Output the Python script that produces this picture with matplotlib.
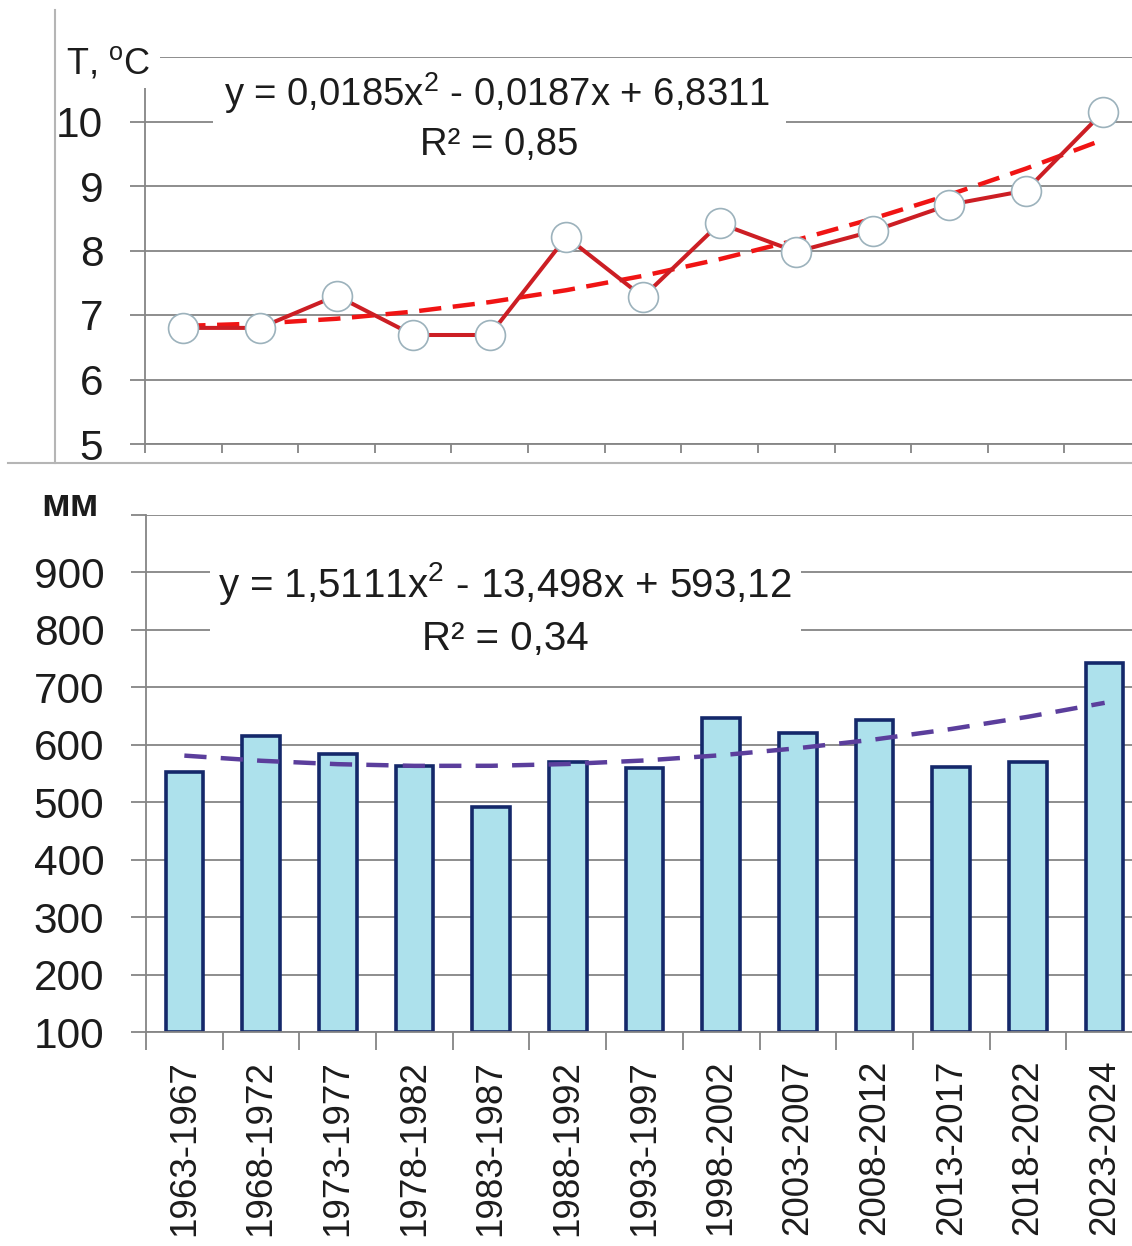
import matplotlib
matplotlib.use("Agg")
import matplotlib.pyplot as plt
import numpy as np
from matplotlib.lines import Line2D
from matplotlib.patches import Rectangle

# ---- data -------------------------------------------------------------
periods = ["1963-1967", "1968-1972", "1973-1977", "1978-1982", "1983-1987",
           "1988-1992", "1993-1997", "1998-2002", "2003-2007", "2008-2012",
           "2013-2017", "2018-2022", "2023-2024"]
temperature = [6.80, 6.80, 7.30, 6.69, 6.69, 8.21, 7.28, 8.42, 7.98, 8.30,
               8.71, 8.93, 10.14]
precipitation = [552, 615, 584, 563, 491, 570, 559, 646, 621, 644, 562, 570, 742]

# quadratic trend coefficients (a, b, c) for y = a*x^2 + b*x + c
temp_trend = [0.0185, -0.0187, 6.8311]
prec_trend = [1.5111, -13.498, 593.12]
temp_eq = "y = 0,0185x$^{2}$ - 0,0187x + 6,8311"
prec_eq = "y = 1,5111x$^{2}$ - 13,498x + 593,12"
temp_r2 = "R² = 0,85"
prec_r2 = "R² = 0,34"

temp_ticks = [5, 6, 7, 8, 9, 10, 11]
prec_ticks = [100, 200, 300, 400, 500, 600, 700, 800, 900, 1000]

# ---- style ------------------------------------------------------------
plt.rcParams["font.family"] = ["Liberation Sans", "DejaVu Sans"]
plt.rcParams["mathtext.fontset"] = "custom"
plt.rcParams["mathtext.rm"] = "Liberation Sans"
plt.rcParams["mathtext.it"] = "Liberation Sans"

W, H = 1132, 1246
fig = plt.figure(figsize=(W / 100, H / 100), dpi=100)
fig.patch.set_facecolor("white")

GRID = "#858585"
TXT = "#1c1c1c"


def fx(px):
    return px / W


def fy(py):
    return 1 - py / H


def px_axes(x0, y0, x1, y1):
    """Axes from a pixel box measured from the top-left corner."""
    return fig.add_axes([fx(x0), fy(y1), (x1 - x0) / W, (y1 - y0) / H])


def white_box(x0, y0, x1, y1):
    fig.add_artist(Rectangle((fx(x0), fy(y1)), (x1 - x0) / W, (y1 - y0) / H,
                             transform=fig.transFigure, fc="white",
                             ec="none", zorder=1))


def style_axes(ax, tick_len_x):
    for s in ("top", "right"):
        ax.spines[s].set_visible(False)
    for s in ("left", "bottom"):
        ax.spines[s].set_color(GRID)
        ax.spines[s].set_linewidth(1.3)
    ax.yaxis.grid(True, color=GRID, linewidth=1.3)
    ax.set_axisbelow(True)
    ax.tick_params(axis="y", length=11, width=1.3, color=GRID,
                   labelsize=30.5, labelcolor=TXT, pad=19)
    ax.tick_params(axis="x", which="major", length=0, labelsize=26.5,
                   labelcolor=TXT, pad=20)
    ax.tick_params(axis="x", which="minor", length=tick_len_x, width=1.3,
                   color=GRID)


x = np.arange(1, len(periods) + 1)
edges = np.arange(0.5, len(periods) + 1, 1.0)

# ---- temperature panel -------------------------------------------------
ax1 = px_axes(145, 57, 1141, 444)
style_axes(ax1, 6.5)
ax1.set_xlim(0.5, len(periods) + 0.5)
ax1.set_ylim(temp_ticks[0], temp_ticks[-1])
ax1.set_yticks(temp_ticks)
ax1.set_yticklabels([str(t) for t in temp_ticks[:-1]] + [""])
ax1.set_xticks(x)
ax1.set_xticklabels([])
ax1.set_xticks(edges, minor=True)

a, b, c = temp_trend
ax1.plot(x, a * x ** 2 + b * x + c, color="#f01414", lw=3.2,
         ls=(0, (5, 2.6)), zorder=3)
ax1.plot(x, temperature, color="#cc1e24", lw=2.9, marker="o",
         markersize=21.5, markerfacecolor="white", markeredgecolor="#9cb2bc",
         markeredgewidth=1.2, zorder=4)

white_box(213, 64, 786, 170)
fig.text(fx(497), fy(106), temp_eq, ha="center", va="baseline",
         fontsize=27.5, color=TXT, zorder=3)
fig.text(fx(499), fy(155), temp_r2, ha="center", va="baseline",
         fontsize=27.5, color=TXT, zorder=3)

white_box(60, 22, 160, 88)
fig.text(fx(108), fy(73), "T, $^{\\mathrm{o}}$C", ha="center",
         va="baseline", fontsize=26, color=TXT, zorder=3)

# ---- precipitation panel -------------------------------------------------
ax2 = px_axes(146, 515, 1143, 1032)
style_axes(ax2, 13)
ax2.set_xlim(0.5, len(periods) + 0.5)
ax2.set_ylim(prec_ticks[0], prec_ticks[-1])
ax2.set_yticks(prec_ticks)
ax2.set_yticklabels([str(t) for t in prec_ticks[:-1]] + [""])
ax2.set_xticks(x)
ax2.set_xticklabels(periods, rotation=90, va="top")
ax2.set_xticks(edges, minor=True)

ax2.bar(x, np.array(precipitation) - prec_ticks[0], bottom=prec_ticks[0],
        width=0.49, color="#ade1ec", edgecolor="#14286a", linewidth=2.6,
        zorder=2)
a, b, c = prec_trend
ax2.plot(x, a * x ** 2 + b * x + c, color="#5b3e9c", lw=3.2,
         ls=(0, (5, 3.2)), zorder=3)

white_box(210, 545, 801, 665)
fig.text(fx(505), fy(597), prec_eq, ha="center", va="baseline",
         fontsize=29, color=TXT, zorder=3)
fig.text(fx(505), fy(650), prec_r2, ha="center", va="baseline",
         fontsize=29, color=TXT, zorder=3)
fig.text(fx(70), fy(516), "мм", ha="center", va="baseline",
         fontsize=28, fontweight="bold", color=TXT)

# ---- frame lines separating the two charts ------------------------------
fig.add_artist(Line2D([fx(55), fx(55)], [fy(10), fy(463)],
                      transform=fig.transFigure, color="#b5b5b5", lw=1.5))
fig.add_artist(Line2D([fx(8), 1.0], [fy(463), fy(463)],
                      transform=fig.transFigure, color="#b5b5b5", lw=1.5))

fig.savefig("out.png", dpi=100, facecolor="white")
